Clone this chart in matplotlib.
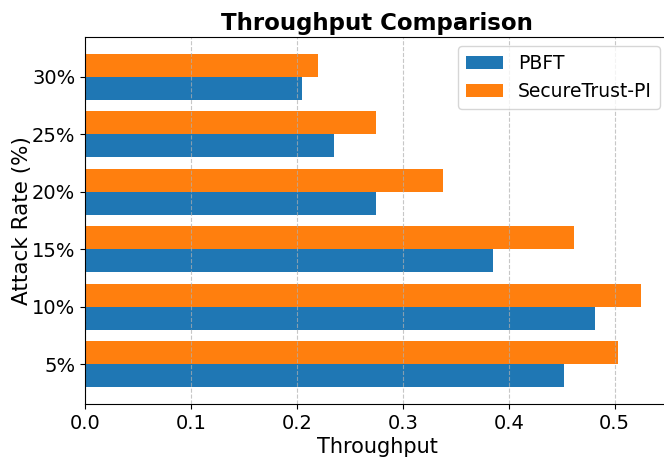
import numpy as np
import matplotlib as mpl
mpl.use('agg')
import matplotlib.pyplot as plt

# attack rates and throughput per protocol
attack_rates = ['5%', '10%', '15%', '20%', '25%', '30%']
pbft = [0.452, 0.481, 0.385, 0.275, 0.235, 0.205]
securetrust = [0.503, 0.525, 0.462, 0.338, 0.275, 0.220]

y = np.arange(len(attack_rates))
h = 0.4

fig = plt.figure(figsize=(6.64, 4.58), dpi=100)
ax = fig.add_axes([85 / 664, 54 / 458, 584 / 664, 367 / 458])

ax.barh(y - h / 2, pbft, h, label='PBFT', color='#1f77b4')
ax.barh(y + h / 2, securetrust, h, label='SecureTrust-PI', color='#ff7f0e')

# formatting
ax.set_yticks(y)
ax.set_yticklabels(attack_rates)
ax.tick_params(labelsize=14)
ax.set_xlabel('Throughput', fontsize=15, labelpad=3)
ax.set_ylabel('Attack Rate (%)', fontsize=15.5, labelpad=0)
ax.set_title('Throughput Comparison', fontsize=16.5, fontweight='bold', pad=5)
ax.grid(axis='x', linestyle='--', alpha=0.7)
ax.legend(loc='upper right', fontsize=13.5)

plt.savefig('out.png', dpi=100)
plt.close()
